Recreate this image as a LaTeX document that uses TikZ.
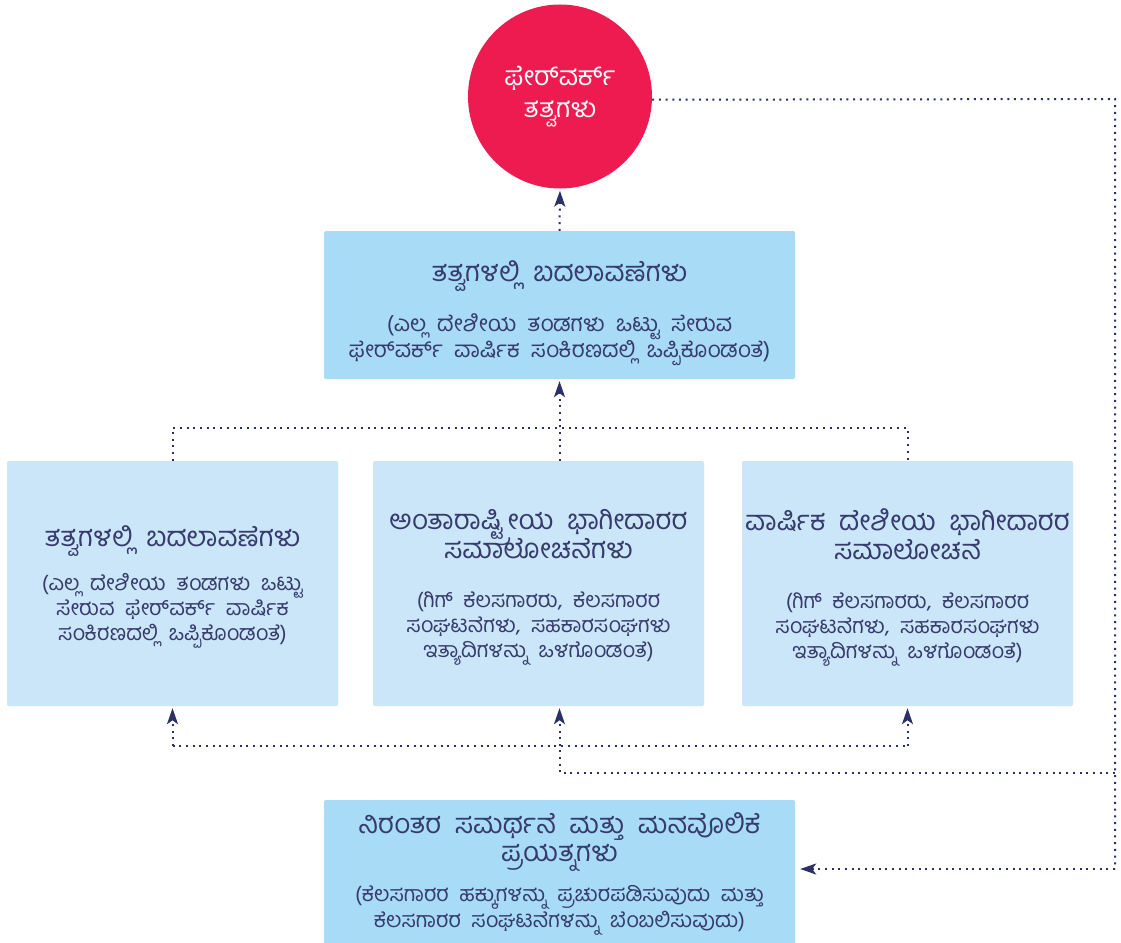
\documentclass[tikz,border=0pt]{standalone}
\usepackage{fontspec}
\newfontfamily\kn[Script=Kannada,WordSpace=2]{Hind Mysuru}
\usetikzlibrary{arrows.meta}
\definecolor{txt}{HTML}{363A6C}
\definecolor{lncol}{HTML}{2B3068}
\definecolor{boxA}{HTML}{A7DBF6}
\definecolor{boxB}{HTML}{CBE6F8}
\definecolor{circcol}{HTML}{EE1B50}
\newcommand\ttl[1]{{\fontsize{27.5}{26}\selectfont #1}}
\lineskiplimit=-100pt\relax
\lineskip=0pt\relax
\tikzset{
  box/.style={rounded corners=2pt, inner sep=0pt},
  boxone/.style={box, fill=boxA, minimum width=471pt},
  boxtwo/.style={box, fill=boxB, minimum width=331pt, minimum height=245pt},
  label text/.style={align=center, text=txt, inner sep=0pt,
    font=\kn\fontsize{21.5}{25}\selectfont},
  conn/.style={draw=lncol, line width=2pt, dash pattern=on 2pt off 4.7pt},
  arr/.style={-{Stealth[length=16pt,width=11pt,inset=4pt]}, shorten >=2pt},
}
\begin{document}
\begin{tikzpicture}[x=1pt,y=-1pt]
\clip (0,0) rectangle (1121,942);
\fill[white] (0,0) rectangle (1121,942);
\node[circle, fill=circcol, minimum size=184pt, inner sep=0pt, text=white, align=center,
  font=\kn\fontsize{26.5}{32}\selectfont] (circ) at (560,96.5)
  {ಫೇರ್‌ವರ್ಕ್\\ತತ್ವಗಳು};
% boxes
\node[boxone, minimum height=148pt] (top) at (559.5,305) {};
\node[boxtwo] (left) at (172.5,583.5) {};
\node[boxtwo] (mid) at (538.5,583.5) {};
\node[boxtwo] (right) at (907.5,583.5) {};
\node[boxone, minimum height=152pt] (bottom) at (559.5,876) {};
% texts
\node[label text] (topt) at ([yshift=-8pt]top.center)
  {\ttl{ತತ್ವಗಳಲ್ಲಿ ಬದಲಾವಣೆಗಳು}\\[25pt]
   {\fontsize{22.5}{27}\selectfont (ಎಲ್ಲ ದೇಶೀಯ ತಂಡಗಳು ಒಟ್ಟು ಸೇರುವ}\\[1pt]
   {\fontsize{22.5}{27}\selectfont ಫೇರ್‌ವರ್ಕ್ ವಾರ್ಷಿಕ ಸಂಕಿರಣದಲ್ಲಿ ಒಪ್ಪಿಕೊಂಡಂತೆ)}};
\node[label text] (leftt) at ([yshift=-3.5pt]left.center)
  {\ttl{ತತ್ವಗಳಲ್ಲಿ ಬದಲಾವಣೆಗಳು}\\[19pt]
   (ಎಲ್ಲ ದೇಶೀಯ ತಂಡಗಳು ಒಟ್ಟು\\ಸೇರುವ ಫೇರ್‌ವರ್ಕ್ ವಾರ್ಷಿಕ\\ಸಂಕಿರಣದಲ್ಲಿ ಒಪ್ಪಿಕೊಂಡಂತೆ)};
\node[label text] (midt) at ([yshift=-4pt]mid.center)
  {\ttl{ಅಂತಾರಾಷ್ಟ್ರೀಯ ಭಾಗೀದಾರರ}\\[4pt]\ttl{ಸಮಾಲೋಚನೆಗಳು}\\[24pt]
   (ಗಿಗ್ ಕೆಲಸಗಾರರು, ಕೆಲಸಗಾರರ\\ಸಂಘಟನೆಗಳು, ಸಹಕಾರಸಂಘಗಳು\\ಇತ್ಯಾದಿಗಳನ್ನು ಒಳಗೊಂಡಂತೆ)};
\node[label text] (rightt) at ([yshift=-4pt]right.center)
  {\ttl{ವಾರ್ಷಿಕ ದೇಶೀಯ ಭಾಗೀದಾರರ}\\[4pt]\ttl{ಸಮಾಲೋಚನೆ}\\[24pt]
   (ಗಿಗ್ ಕೆಲಸಗಾರರು, ಕೆಲಸಗಾರರ\\ಸಂಘಟನೆಗಳು, ಸಹಕಾರಸಂಘಗಳು\\ಇತ್ಯಾದಿಗಳನ್ನು ಒಳಗೊಂಡಂತೆ)};
\node[label text] (bottomt) at ([yshift=2.5pt]bottom.center)
  {\ttl{ನಿರಂತರ ಸಮರ್ಥನೆ ಮತ್ತು ಮನವೊಲಿಕೆ}\\[3pt]\ttl{ಪ್ರಯತ್ನಗಳು}\\[15pt]
   (ಕೆಲಸಗಾರರ ಹಕ್ಕುಗಳನ್ನು ಪ್ರಚುರಪಡಿಸುವುದು ಮತ್ತು\\[1pt]ಕೆಲಸಗಾರರ ಸಂಘಟನೆಗಳನ್ನು ಬೆಂಬಲಿಸುವುದು)};
% junction coordinates
\coordinate (jl) at (172.5,428);
\coordinate (jr) at (907.5,428);
\coordinate (bl) at (172.5,746);
\coordinate (bm) at (559.5,746);
\coordinate (br) at (907.5,746);
\coordinate (bm2) at (559.5,773);
\coordinate (cr) at (1115,773);
\coordinate (ctop) at (1115,99);
\coordinate (cbot) at (1115,869);
% connectors
\draw[conn,arr] (top.north) -- (circ.south);
\draw[conn,arr] (top.south |- mid.north) -- (top.south);
\draw[conn] (left.north) -- (jl) -- (jr) -- (right.north);
\draw[conn] (bl) -- (br);
\draw[conn,arr] (bl) -- (left.south);
\draw[conn,arr] (bm) -- (bm |- mid.south);
\draw[conn,arr] (br) -- (right.south);
\draw[conn] (cr) -- (bm2) -- (bm);
\draw[conn] (circ.-2) -- (ctop) -- (cbot);
\draw[conn,arr,shorten >=5pt] (cbot) -- (bottom.east |- cbot);
\end{tikzpicture}
\end{document}
